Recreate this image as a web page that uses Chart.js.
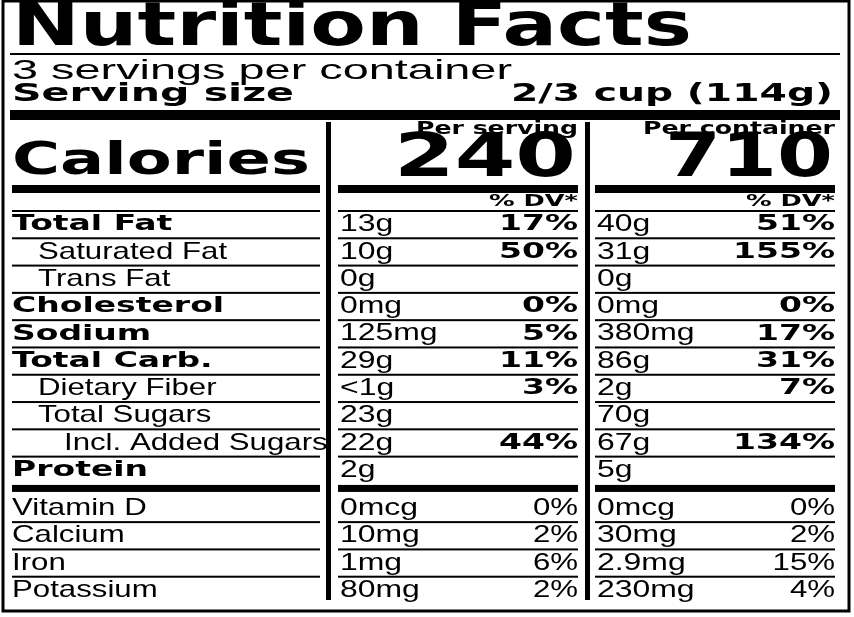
<!DOCTYPE html>
<html>
<head>
<meta charset="utf-8">
<script src="https://cdn.jsdelivr.net/npm/chart.js@4.4.0/dist/chart.umd.min.js"></script>
<style>
  html, body { margin: 0; padding: 0; background: #fff; }
  #label { display: block; }
</style>
</head>
<body>
<canvas id="label" width="854" height="617"></canvas>
<script>
// Nutrition label data
const servingsText = "3 servings per container";
const servingSize = "2/3 cup (114g)";
const calories = [240, 710];
const nutrients = ["Total Fat", "Saturated Fat", "Trans Fat", "Cholesterol", "Sodium", "Total Carb.",
  "Dietary Fiber", "Total Sugars", "Incl. Added Sugars", "Protein", "Vitamin D", "Calcium", "Iron", "Potassium"];
const indent = [0, 1, 1, 0, 0, 0, 1, 1, 2, 0, 0, 0, 0, 0];
const boldName = [1, 0, 0, 1, 1, 1, 0, 0, 0, 1, 0, 0, 0, 0];
const servAmt = ["13g", "10g", "0g", "0mg", "125mg", "29g", "<1g", "23g", "22g", "2g", "0mcg", "10mg", "1mg", "80mg"];
const servDV = [17, 50, null, 0, 5, 11, 3, null, 44, null, 0, 2, 6, 2];
const contAmt = ["40g", "31g", "0g", "0mg", "380mg", "86g", "2g", "70g", "67g", "5g", "0mcg", "30mg", "2.9mg", "230mg"];
const contDV = [51, 155, null, 0, 17, 31, 7, null, 134, null, 0, 2, 15, 4];

const HEAVY = '"DejaVu Sans", sans-serif';
const REG = '"Liberation Sans", Arial, sans-serif';

// draw text with a horizontal stretch (sx) or fitted to a width
function txt(ctx, s, x, y, font, align, sx, width) {
  ctx.font = font;
  ctx.textAlign = align || "left";
  ctx.textBaseline = "middle";
  let k = sx || 1;
  if (width) k = width / ctx.measureText(s).width;
  ctx.save();
  ctx.translate(x, y);
  ctx.scale(k, 1);
  ctx.fillText(s, 0, 0);
  ctx.restore();
}

const labelPlugin = {
  id: "labelPlugin",
  afterDraw(chart) {
    const ctx = chart.ctx;
    const xs = chart.scales.x, ys = chart.scales.y;
    const X = v => xs.getPixelForValue(v);
    const rowY = i => ys.getPixelForValue(i + (i >= 10 ? 0.4 : 0));
    const half = (ys.getPixelForValue(1) - ys.getPixelForValue(0)) / 2;
    ctx.save();
    ctx.fillStyle = "#000";
    ctx.strokeStyle = "#000";

    // outer border
    ctx.lineWidth = 3;
    ctx.strokeRect(3, 1, 846, 610);

    // header
    txt(ctx, "Nutrition Facts", 12, 29, "bold 60px " + HEAVY, "left", 0, 680);
    ctx.fillRect(10, 53, 830, 2);
    txt(ctx, servingsText, 12, 71, "28px " + REG, "left", 0, 500);
    txt(ctx, "Serving size", 12, 95, "bold 24px " + HEAVY, "left", 0, 282);
    txt(ctx, servingSize, 833, 95, "bold 24px " + HEAVY, "right", 0, 322);
    ctx.fillRect(10, 110, 830, 10);

    // columns: [left, right]
    const cols = [[X(12), X(320)], [X(338), X(578)], [X(595), X(835)]];
    ctx.fillRect(X(326), 122, 5, 478);
    ctx.fillRect(X(585), 122, 5, 478);

    // calories block
    txt(ctx, "Calories", 12, 163, "bold 44px " + HEAVY, "left", 0, 298);
    txt(ctx, "Per serving", cols[1][1], 130, "bold 17px " + HEAVY, "right", 0, 162);
    txt(ctx, "Per container", cols[2][1], 130, "bold 17px " + HEAVY, "right", 0, 192);
    txt(ctx, String(calories[0]), cols[1][1] - 2, 160, "bold 60px " + HEAVY, "right", 0, 182);
    txt(ctx, String(calories[1]), cols[2][1] - 2, 160, "bold 60px " + HEAVY, "right", 0, 168);
    cols.forEach(c => ctx.fillRect(c[0], 185, c[1] - c[0], 8));
    [1, 2].forEach(k => {
      txt(ctx, "% DV*", cols[k][1], 202, "bold 16px " + HEAVY, "right", 1.6);
      ctx.fillRect(cols[k][0], 210, cols[k][1] - cols[k][0], 2);
    });
    ctx.fillRect(cols[0][0], 210, cols[0][1] - cols[0][0], 2);

    nutrients.forEach((name, i) => {
      const y = rowY(i);
      const vit = i >= 10;
      if (boldName[i]) txt(ctx, name, 12, y, "bold 22px " + HEAVY, "left", 1.5);
      else txt(ctx, name, 12 + indent[i] * 26, y, "24px " + REG, "left", 1.3);
      txt(ctx, servAmt[i], cols[1][0] + 2, y, "24px " + REG, "left", 1.33);
      txt(ctx, contAmt[i], cols[2][0] + 2, y, "24px " + REG, "left", 1.33);
      const dvFont = vit ? "24px " + REG : "bold 22px " + HEAVY;
      const dvK = vit ? 1.3 : 1.5;
      if (servDV[i] !== null) txt(ctx, servDV[i] + "%", cols[1][1], y, dvFont, "right", dvK);
      if (contDV[i] !== null) txt(ctx, contDV[i] + "%", cols[2][1], y, dvFont, "right", dvK);
      if (i === 9) {
        cols.forEach(c => ctx.fillRect(c[0], y + half + 1, c[1] - c[0], 7));
      } else if (i < nutrients.length - 1) {
        cols.forEach(c => ctx.fillRect(c[0], y + half - 1, c[1] - c[0], 2));
      }
    });
    ctx.restore();
  }
};

new Chart(document.getElementById("label"), {
  type: "scatter",
  data: { datasets: [{ data: [] }] },
  options: {
    responsive: false,
    animation: false,
    layout: { padding: { top: 211, bottom: 13, left: 0, right: 0 } },
    plugins: { legend: { display: false }, tooltip: { enabled: false } },
    scales: {
      x: { type: "linear", min: 0, max: 854, display: false },
      y: { type: "linear", min: -0.5, max: 13.9, reverse: true, display: false }
    }
  },
  plugins: [labelPlugin]
});
</script>
</body>
</html>
